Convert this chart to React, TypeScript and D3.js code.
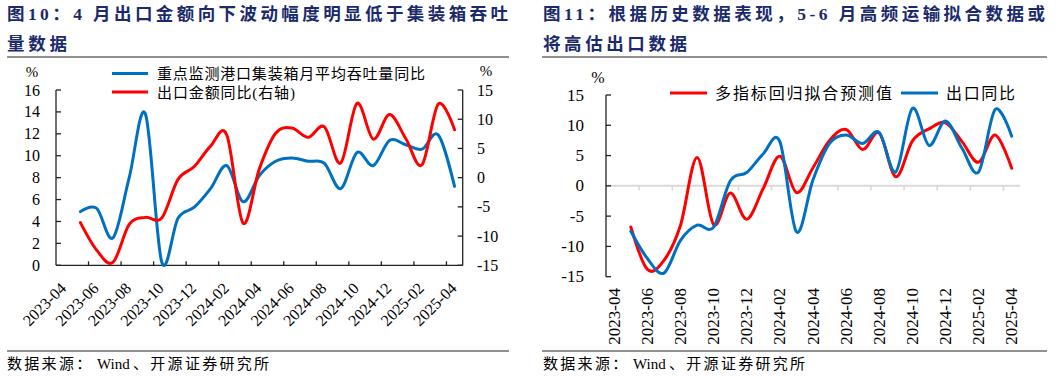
import React from 'react';
import * as d3 from 'd3';

const months = [
  '2023-04', '2023-05', '2023-06', '2023-07', '2023-08', '2023-09', '2023-10', '2023-11', '2023-12',
  '2024-01', '2024-02', '2024-03', '2024-04', '2024-05', '2024-06', '2024-07', '2024-08', '2024-09',
  '2024-10', '2024-11', '2024-12', '2025-01', '2025-02', '2025-03', '2025-04',
];

// Chart 10 (left)
const containerYoY: (number | null)[] = [
  null, 4.9, 5.2, 2.5, 8.0, 13.8, 0.3, 4.3, 5.3, 7.0, 9.1, 5.8, 8.2, 9.5, 9.8, 9.5, 9.3, 7.0, 10.3, 9.1, 11.4, 11.0, 10.6, 11.9, 7.2,
];
const exportValueYoY: (number | null)[] = [
  null, -7.7, -12.4, -14.5, -8.0, -6.8, -6.9, -0.3, 1.9, 5.4, 7.3, -7.8, 1.5, 7.6, 8.5, 6.9, 8.7, 2.5, 12.7, 6.6, 10.8, 6.7, 2.2, 12.6, 8.2,
];

// Chart 11 (right)
const fittedForecast: (number | null)[] = [
  null, -6.8, -13.8, -12.3, -6.5, 4.7, -6.4, -1.2, -5.5, -0.4, 4.9, -1.1, 3.0, 7.5, 9.3, 6.0, 8.7, 1.5, 7.4, 9.4, 10.4, 7.3, 3.9, 8.4, 2.9,
];
const exportYoY: (number | null)[] = [
  null, -7.5, -12.0, -14.4, -9.0, -6.5, -6.8, 0.8, 2.2, 5.3, 7.3, -7.6, 1.0, 7.0, 8.4, 7.0, 8.8, 2.3, 12.8, 6.7, 10.7, 6.2, 2.3, 12.6, 8.2,
];

const leftTicks = [0, 2, 4, 6, 8, 10, 12, 14, 16];
const rightTicks = [-15, -10, -5, 0, 5, 10, 15];

const title10a = '图10：4 月出口金额向下波动幅度明显低于集装箱吞吐';
const title10b = '量数据';
const title11a = '图11：根据历史数据表现，5-6 月高频运输拟合数据或';
const title11b = '将高估出口数据';
const legend10 = ['重点监测港口集装箱月平均吞吐量同比', '出口金额同比(右轴)'];
const legend11 = ['多指标回归拟合预测值', '出口同比'];
const sourceParts = ['数据来源：', 'Wind', '、开源证券研究所'];

const BLUE = '#0070C0';
const RED = '#FF0000';
const NAVY = '#1B2A6B';
const SERIF = "'Liberation Serif', 'Times New Roman', 'Noto Sans CJK SC', serif";
const CJK = "'Liberation Serif', 'Noto Sans CJK SC', sans-serif";

function makePath(
  data: (number | null)[],
  x: d3.ScaleBand<string>,
  y: d3.ScaleLinear<number, number>
) {
  const pts = data.map((v, i) => [i, v] as [number, number | null]);
  const gen = d3
    .line<[number, number | null]>()
    .defined((d) => d[1] != null)
    .x((d) => (x(months[d[0]]) as number) + x.bandwidth() / 2)
    .y((d) => y(d[1] as number))
    .curve(d3.curveCardinal.tension(0));
  return gen(pts) || '';
}

function Source({ x0, y0 }: { x0: number; y0: number }) {
  return (
    <g fontFamily={CJK} fontSize={15} fill="#000">
      <text x={x0} y={y0} dominantBaseline="central" letterSpacing={2.3}>{sourceParts[0]}</text>
      <text x={x0 + 90} y={y0} dominantBaseline="central">{sourceParts[1]}</text>
      <text x={x0 + 126} y={y0} dominantBaseline="central" letterSpacing={2.3}>{sourceParts[2]}</text>
    </g>
  );
}

function LeftChart() {
  const x = d3.scaleBand<string>().domain(months).range([56, 462.7]);
  const yL = d3.scaleLinear().domain([0, 16]).range([265.3, 90]);
  const yR = d3.scaleLinear().domain([-15, 15]).range([265.3, 90]);
  const bw = x.bandwidth();
  const bottom = yL(0);
  const tickIdx = months.map((_, i) => i).filter((i) => i % 2 === 0 && i > 0);
  return (
    <g>
      <text x={7} y={14} fontFamily={CJK} fontWeight="bold" fontSize={17.5} fill={NAVY} dominantBaseline="central" textLength={501} lengthAdjust="spacing">{title10a}</text>
      <text x={7} y={44} fontFamily={CJK} fontWeight="bold" fontSize={17.5} fill={NAVY} dominantBaseline="central" textLength={60} lengthAdjust="spacing">{title10b}</text>
      <line x1={7} x2={509} y1={57} y2={57} stroke="#222" strokeWidth={1} />

      <text x={32} y={72} fontFamily={SERIF} fontSize={15} textAnchor="middle" dominantBaseline="central" fill="#000">%</text>
      <text x={486} y={71} fontFamily={SERIF} fontSize={15} textAnchor="middle" dominantBaseline="central" fill="#000">%</text>

      {/* axes */}
      <line x1={56} x2={56} y1={yL(16)} y2={bottom} stroke="#222" strokeWidth={1.3} />
      <line x1={x.range()[1]} x2={x.range()[1]} y1={yR(15)} y2={bottom} stroke="#222" strokeWidth={1.3} />
      <line x1={56} x2={x.range()[1]} y1={bottom} y2={bottom} stroke="#222" strokeWidth={1.3} />
      {leftTicks.map((t) => (
        <g key={'l' + t}>
          <line x1={56} x2={61} y1={yL(t)} y2={yL(t)} stroke="#222" strokeWidth={1.3} />
          <text x={40} y={yL(t)} fontFamily={SERIF} fontSize={16} textAnchor="end" dominantBaseline="central" fill="#000">{t}</text>
        </g>
      ))}
      {rightTicks.map((t) => (
        <g key={'r' + t}>
          <line x1={x.range()[1] - 5} x2={x.range()[1]} y1={yR(t)} y2={yR(t)} stroke="#222" strokeWidth={1.3} />
          <text x={477} y={yR(t)} fontFamily={SERIF} fontSize={16} textAnchor="start" dominantBaseline="central" fill="#000">{t}</text>
        </g>
      ))}
      {tickIdx.map((i) => {
        const xx = x(months[i]) as number;
        return <line key={'t' + i} x1={xx} x2={xx} y1={bottom} y2={bottom - 4} stroke="#222" strokeWidth={1.3} />;
      })}
      {months.map((m, i) =>
        i % 2 === 0 ? (
          <text
            key={'xl' + m}
            transform={`translate(${(x(m) as number) + bw / 2 + 3},${bottom + 24}) rotate(-45)`}
            fontFamily={SERIF}
            fontSize={16}
            textAnchor="end"
            fill="#000"
          >
            {m}
          </text>
        ) : null
      )}

      <path d={makePath(containerYoY, x, yL)} fill="none" stroke={BLUE} strokeWidth={3} strokeLinejoin="round" strokeLinecap="round" />
      <path d={makePath(exportValueYoY, x, yR)} fill="none" stroke={RED} strokeWidth={3} strokeLinejoin="round" strokeLinecap="round" />

      {/* legend */}
      <line x1={112} x2={148} y1={73.5} y2={73.5} stroke={BLUE} strokeWidth={3} />
      <text x={157} y={73.5} fontFamily={CJK} fontSize={15} dominantBaseline="central" fill="#000" textLength={268} lengthAdjust="spacing">{legend10[0]}</text>
      <line x1={112} x2={148} y1={92} y2={92} stroke={RED} strokeWidth={3} />
      <text x={157} y={92.5} fontFamily={CJK} fontSize={15} dominantBaseline="central" fill="#000" textLength={138} lengthAdjust="spacing">{legend10[1]}</text>

      <line x1={7} x2={509} y1={351} y2={351} stroke="#222" strokeWidth={1} />
      <Source x0={7} y0={364} />
    </g>
  );
}

function RightChart() {
  const x = d3.scaleBand<string>().domain(months).range([606, 1020]);
  const y = d3.scaleLinear().domain([-15, 15]).range([276.7, 95]);
  const bw = x.bandwidth();
  const zero = y(0);
  const tickIdx = months.map((_, i) => i).filter((i) => i % 2 === 0 && i > 0);
  return (
    <g>
      <text x={543} y={14} fontFamily={CJK} fontWeight="bold" fontSize={17.5} fill={NAVY} dominantBaseline="central" textLength={502} lengthAdjust="spacing">{title11a}</text>
      <text x={543} y={44} fontFamily={CJK} fontWeight="bold" fontSize={17.5} fill={NAVY} dominantBaseline="central" textLength={144} lengthAdjust="spacing">{title11b}</text>
      <line x1={542} x2={1047} y1={57} y2={57} stroke="#222" strokeWidth={1} />

      <text x={598} y={77} fontFamily={SERIF} fontSize={16} textAnchor="middle" dominantBaseline="central" fill="#000">%</text>

      <line x1={606} x2={1020} y1={zero} y2={zero} stroke="#D9D9D9" strokeWidth={2} />
      {tickIdx.map((i) => {
        const xx = x(months[i]) as number;
        return <line key={'t' + i} x1={xx} x2={xx} y1={zero} y2={zero + 5} stroke="#D9D9D9" strokeWidth={1.5} />;
      })}
      <line x1={606} x2={606} y1={y(15)} y2={y(-15)} stroke="#222" strokeWidth={1.3} />
      {rightTicks.map((t) => (
        <g key={'y' + t}>
          <line x1={606} x2={611} y1={y(t)} y2={y(t)} stroke="#222" strokeWidth={1.3} />
          <text x={584} y={y(t)} fontFamily={SERIF} fontSize={17} textAnchor="end" dominantBaseline="central" fill="#000">{t}</text>
        </g>
      ))}
      {months.map((m, i) =>
        i % 2 === 0 ? (
          <text
            key={'xl' + m}
            transform={`translate(${(x(m) as number) + bw / 2},288) rotate(-90)`}
            fontFamily={SERIF}
            fontSize={17}
            textAnchor="end"
            dominantBaseline="central"
            fill="#000"
          >
            {m}
          </text>
        ) : null
      )}

      <path d={makePath(fittedForecast, x, y)} fill="none" stroke={RED} strokeWidth={3} strokeLinejoin="round" strokeLinecap="round" />
      <path d={makePath(exportYoY, x, y)} fill="none" stroke={BLUE} strokeWidth={3} strokeLinejoin="round" strokeLinecap="round" />

      <line x1={670} x2={707} y1={93} y2={93} stroke={RED} strokeWidth={3} />
      <text x={715} y={93} fontFamily={CJK} fontSize={16} dominantBaseline="central" fill="#000" textLength={177} lengthAdjust="spacing">{legend11[0]}</text>
      <line x1={901} x2={938} y1={93} y2={93} stroke={BLUE} strokeWidth={3} />
      <text x={946} y={93} fontFamily={CJK} fontSize={16} dominantBaseline="central" fill="#000" textLength={69} lengthAdjust="spacing">{legend11[1]}</text>

      <line x1={542} x2={1047} y1={351} y2={351} stroke="#222" strokeWidth={1} />
      <Source x0={543} y0={364} />
    </g>
  );
}

export default function App() {
  return (
    <svg
      width={1057}
      height={377}
      viewBox="0 0 1057 377"
      style={{ position: 'absolute', left: 0, top: 0, background: '#fff' }}
    >
      <rect x={0} y={0} width={1057} height={377} fill="#fff" />
      <LeftChart />
      <RightChart />
    </svg>
  );
}
